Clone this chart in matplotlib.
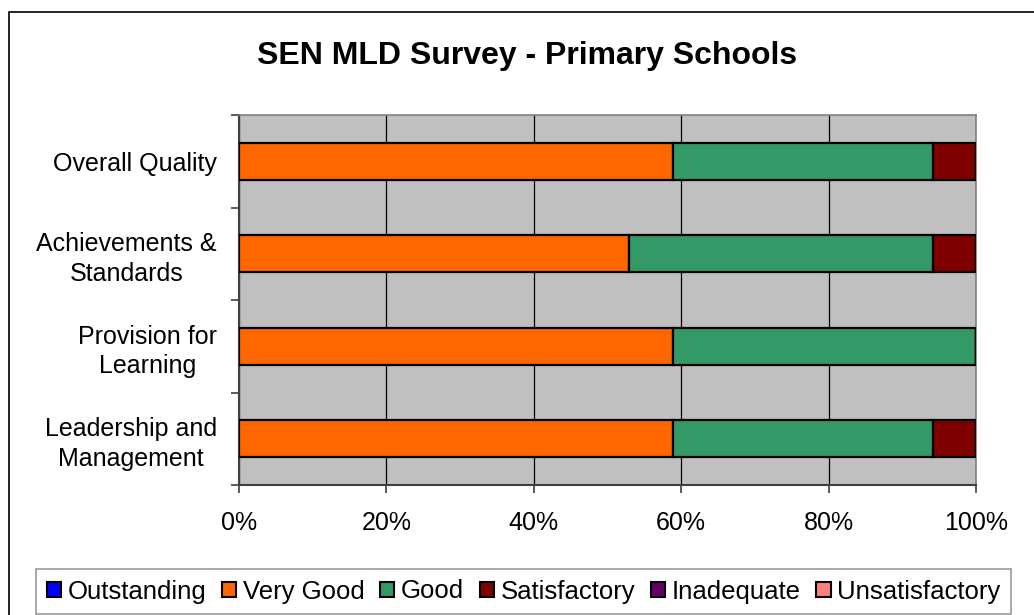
import matplotlib
matplotlib.use("Agg")
import matplotlib.pyplot as plt
from matplotlib.patches import Patch, Rectangle
import numpy as np

# =================
# DANE
# =================
kategorie = ["Overall Quality", "Achievements &\nStandards",
             "Provision for\nLearning", "Leadership and\nManagement"]
serie = ["Outstanding", "Very Good", "Good", "Satisfactory", "Inadequate", "Unsatisfactory"]
kolory = ["#0000FF", "#FF6600", "#339966", "#800000", "#660066", "#FF8080"]

# liczba szkół (17 szkół w ankiecie)
outstanding = [0, 0, 0, 0]
very_good = [10, 9, 10, 10]
good = [6, 7, 7, 6]
satisfactory = [1, 1, 0, 1]
inadequate = [0, 0, 0, 0]
unsatisfactory = [0, 0, 0, 0]

wartosci = [outstanding, very_good, good, satisfactory, inadequate, unsatisfactory]

plt.rcParams["font.family"] = ["Liberation Sans", "DejaVu Sans"]

fig = plt.figure(figsize=(10.34, 6.15), dpi=100)
W, H = 1034, 615
ax = fig.add_axes([239 / W, 1 - 485 / H, (976 - 239) / W, (485 - 115) / H])
ax.set_facecolor("#C0C0C0")

dane = np.array(wartosci, dtype=float)
proc = dane / dane.sum(axis=0) * 100
y = np.arange(len(kategorie))
left = np.zeros(len(kategorie))
for nazwa, kol, v in zip(serie, kolory, proc):
    ax.barh(y, v, left=left, height=0.4, color=kol, edgecolor="black",
            linewidth=1.6, zorder=3, label=nazwa)
    left += v

ax.set_xlim(0, 100)
ax.set_ylim(len(kategorie) - 0.5, -0.5)

# siatka
ax.set_xticks(np.arange(0, 101, 20))
ax.set_xticklabels([f"{t}%" for t in range(0, 101, 20)], fontsize=18)
ax.grid(True, axis="x", color="black", linewidth=0.9, zorder=1)

# etykiety kategorii w środku, kreski na granicach
ax.set_yticks(y)
ax.set_yticklabels(kategorie, fontsize=18, multialignment="center", linespacing=1.3)
ax.set_yticks(np.arange(-0.5, len(kategorie), 1), minor=True)
ax.tick_params(axis="y", which="major", length=0, pad=16)
ax.tick_params(axis="y", which="minor", length=6, width=1.2, color="#404040", direction="out")
ax.tick_params(axis="x", length=6, width=1.2, color="#404040", pad=13)

for s in ["top", "right"]:
    ax.spines[s].set_color("#808080")
    ax.spines[s].set_linewidth(1.2)
for s in ["left", "bottom"]:
    ax.spines[s].set_color("#404040")
    ax.spines[s].set_linewidth(1.5)

fig.text(527 / W, 1 - 56 / H, "SEN MLD Survey - Primary Schools",
         fontsize=23, fontweight="bold", ha="center", va="center")

# ramka wykresu
fig.patches.append(Rectangle((9 / W, -0.1), 1.2, 1 - 12 / H + 0.1,
                             transform=fig.transFigure, fill=False,
                             edgecolor="black", linewidth=1.2))

uchwyty = [Patch(facecolor=k, edgecolor="black", linewidth=1.5) for k in kolory]
leg = fig.legend(uchwyty, serie, loc="center", bbox_to_anchor=(523.5 / W, 1 - 591.5 / H),
                 ncol=6, fontsize=18.5, frameon=True, fancybox=False,
                 handlelength=0.55, handleheight=0.55, handletextpad=0.25,
                 columnspacing=0.62, borderpad=0.4, borderaxespad=0)
leg.get_frame().set_edgecolor("#808080")
leg.get_frame().set_linewidth(1.2)

fig.savefig("out.png", dpi=100)
